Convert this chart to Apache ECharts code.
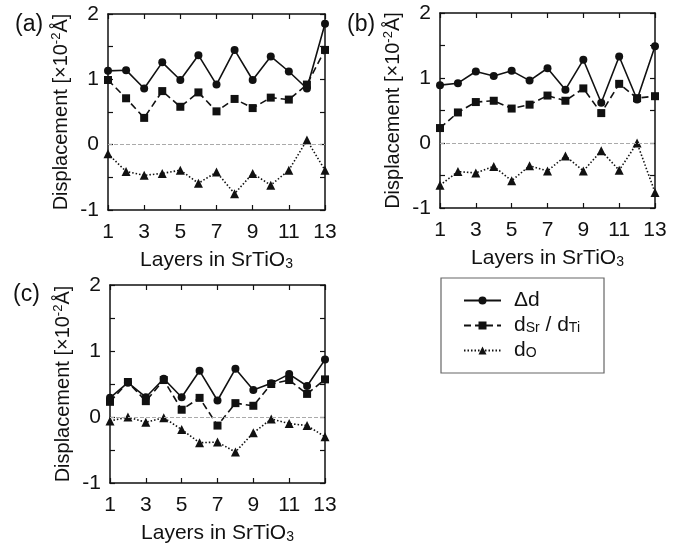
<!DOCTYPE html>
<html>
<head>
<meta charset="utf-8">
<script src="https://cdn.jsdelivr.net/npm/echarts@6/dist/echarts.min.js"></script>
<style>
  html, body { margin: 0; padding: 0; background: #fff; }
  #chart { width: 697px; height: 548px; }
</style>
</head>
<body>
<div id="chart"></div>
<script>
// layers in SrTiO3
const layers = [1, 2, 3, 4, 5, 6, 7, 8, 9, 10, 11, 12, 13]
const xTicks = [1, 3, 5, 7, 9, 11, 13]
const yTicks = [-1, 0, 1, 2]

// panel (a)
const deltaA = [1.13, 1.14, 0.86, 1.26, 0.99, 1.37, 0.92, 1.45, 0.99, 1.35, 1.12, 0.86, 1.85]
const srTiA = [0.99, 0.71, 0.41, 0.82, 0.58, 0.80, 0.51, 0.70, 0.56, 0.72, 0.69, 0.92, 1.45]
const oxA = [-0.14, -0.41, -0.47, -0.44, -0.39, -0.59, -0.42, -0.75, -0.44, -0.62, -0.39, 0.07, -0.39]

// panel (b)
const deltaB = [0.89, 0.92, 1.10, 1.03, 1.11, 0.96, 1.15, 0.82, 1.28, 0.62, 1.33, 0.67, 1.49]
const srTiB = [0.23, 0.47, 0.63, 0.65, 0.53, 0.59, 0.73, 0.65, 0.84, 0.46, 0.91, 0.69, 0.72]
const oxB = [-0.65, -0.44, -0.46, -0.36, -0.58, -0.35, -0.43, -0.20, -0.43, -0.12, -0.42, 0.0, -0.76]

// panel (c)
const deltaC = [0.29, 0.52, 0.30, 0.58, 0.30, 0.70, 0.25, 0.73, 0.41, 0.51, 0.65, 0.47, 0.87]
const srTiC = [0.23, 0.53, 0.24, 0.56, 0.11, 0.29, -0.13, 0.21, 0.17, 0.50, 0.56, 0.35, 0.57]
const oxC = [-0.06, 0.0, -0.08, -0.01, -0.19, -0.39, -0.38, -0.53, -0.24, -0.03, -0.10, -0.13, -0.30]

const panels = [
  { label: '(a)', delta: deltaA, srTi: srTiA, ox: oxA },
  { label: '(b)', delta: deltaB, srTi: srTiB, ox: oxB },
  { label: '(c)', delta: deltaC, srTi: srTiC, ox: oxC }
]

const font = '"Liberation Sans", Arial, Helvetica, sans-serif'
const ink = '#111'

const grids = [
  { left: 108, top: 14, width: 217, height: 196 },
  { left: 440, top: 13, width: 215, height: 195 },
  { left: 110, top: 285, width: 215, height: 198 }
]

// subscript / superscript pieces for rich text
const subStyle = { fontSize: 14, fontFamily: font, color: ink, lineHeight: 10, verticalAlign: 'bottom' }
const supStyle = { fontSize: 13, fontFamily: font, color: ink, lineHeight: 8, verticalAlign: 'top' }

const toPairs = vals => layers.map((x, i) => [x, vals[i]])

const xAxes = []
const yAxes = []
const series = []

grids.forEach((g, i) => {
  const tickStyle = { show: true, inside: true, length: 5, lineStyle: { color: ink, width: 1.2 } }
  const lineStyle = { onZero: false, lineStyle: { color: ink, width: 1.5 } }
  xAxes.push({
    type: 'value', gridIndex: i, min: 1, max: 13, interval: 2,
    axisLine: lineStyle,
    axisTick: tickStyle,
    splitLine: { show: false },
    axisLabel: {
      color: ink, fontSize: 21, fontFamily: font, margin: 12,
      formatter: v => xTicks.includes(v) ? String(v) : ''
    },
    name: 'Layers in SrTiO{sub|3}',
    nameLocation: 'middle',
    nameGap: 39,
    nameTextStyle: {
      color: ink, fontSize: 21, fontFamily: font, lineHeight: 22,
      rich: { sub: subStyle }
    }
  })
  xAxes.push({
    type: 'value', gridIndex: i, min: 1, max: 13, interval: 2, position: 'top',
    axisLine: lineStyle,
    axisTick: tickStyle,
    axisLabel: { show: false },
    splitLine: { show: false }
  })
  yAxes.push({
    type: 'value', gridIndex: i, min: -1, max: 2, interval: 0.5,
    axisLine: Object.assign({ show: true }, lineStyle),
    axisTick: tickStyle,
    splitLine: { show: false },
    axisLabel: {
      color: ink, fontSize: 21, fontFamily: font, margin: 9,
      formatter: v => yTicks.includes(v) ? String(v) : ''
    },
    name: 'Displacement [×10{sup|-2}Å]',
    nameLocation: 'middle',
    nameRotate: 90,
    nameGap: 36,
    nameTextStyle: {
      color: ink, fontSize: 20, fontFamily: font, lineHeight: 22,
      rich: { sup: supStyle }
    }
  })
  yAxes.push({
    type: 'value', gridIndex: i, min: -1, max: 2, interval: 0.5, position: 'right',
    axisLine: Object.assign({ show: true }, lineStyle),
    axisTick: tickStyle,
    axisLabel: { show: false },
    splitLine: { show: false }
  })

  const p = panels[i]
  series.push({
    name: 'delta', type: 'line', xAxisIndex: 2 * i, yAxisIndex: 2 * i,
    data: toPairs(p.delta),
    symbol: 'circle', symbolSize: 8,
    itemStyle: { color: ink },
    lineStyle: { color: ink, width: 1.6, type: 'solid' },
    z: 4,
    markLine: {
      silent: true, symbol: 'none', label: { show: false },
      lineStyle: { color: '#aaa', type: 'dashed', width: 1 },
      data: [{ yAxis: 0 }]
    }
  })
  series.push({
    name: 'srti', type: 'line', xAxisIndex: 2 * i, yAxisIndex: 2 * i,
    data: toPairs(p.srTi),
    symbol: 'rect', symbolSize: 8,
    itemStyle: { color: ink },
    lineStyle: { color: ink, width: 1.6, type: [7, 4] },
    z: 3
  })
  series.push({
    name: 'ox', type: 'line', xAxisIndex: 2 * i, yAxisIndex: 2 * i,
    data: toPairs(p.ox),
    symbol: 'triangle', symbolSize: 9,
    itemStyle: { color: ink },
    lineStyle: { color: ink, width: 1.6, type: [1.5, 2] },
    z: 3
  })
})

const legendNames = {
  delta: 'Δd',
  srti: 'd{sub|Sr} / d{sub|Ti}',
  ox: 'd{sub|O}'
}

const chart = echarts.init(document.getElementById('chart'), null, { renderer: 'canvas' })
chart.setOption({
  backgroundColor: '#fff',
  animation: false,
  title: [
    { text: '(a)', left: 10, top: 8 },
    { text: '(b)', left: 342, top: 8 },
    { text: '(c)', left: 8, top: 278 }
  ].map(t => Object.assign(t, { textStyle: { color: ink, fontSize: 23, fontWeight: 'normal', fontFamily: font } })),
  grid: grids,
  xAxis: xAxes,
  yAxis: yAxes,
  legend: {
    data: ['delta', 'srti', 'ox'],
    orient: 'vertical',
    left: 441,
    top: 278,
    itemWidth: 37,
    itemHeight: 10,
    itemGap: 4,
    padding: [12, 24, 12, 22],
    borderColor: '#666',
    borderWidth: 1.2,
    selectedMode: false,
    formatter: name => legendNames[name],
    textStyle: {
      color: ink, fontSize: 21, fontFamily: font, lineHeight: 20,
      padding: [0, 0, 0, 8],
      rich: { sub: subStyle }
    }
  },
  series: series
})
</script>
</body>
</html>
